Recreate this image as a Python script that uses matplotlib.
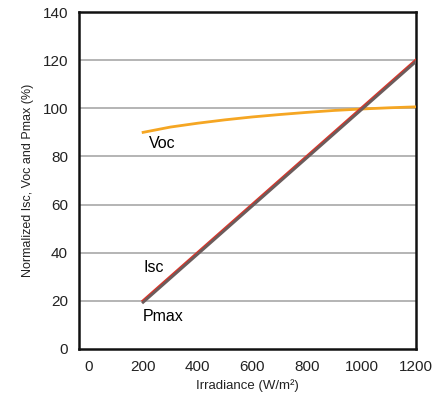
import matplotlib
matplotlib.use("Agg")
import matplotlib.pyplot as plt

plt.rcParams["font.family"] = ["Liberation Sans", "DejaVu Sans"]

# Data
irradiance = [200, 300, 400, 500, 600, 700, 800, 900, 1000, 1100, 1200]
voc = [90, 92.2, 93.8, 95.2, 96.4, 97.4, 98.3, 99.1, 99.7, 100.2, 100.6]
isc_x = [200, 1200]
isc = [20, 120]
pmax_x = [200, 1200]
pmax = [19.4, 119.4]

x_ticks = [0, 200, 400, 600, 800, 1000, 1200]
y_ticks = [0, 20, 40, 60, 80, 100, 120, 140]

fig = plt.figure(figsize=(4.47, 3.94), dpi=100)
ax = fig.add_axes([79 / 447, 1 - 349 / 394, (416 - 79) / 447, (349 - 12) / 394])

for y in y_ticks[1:-1]:
    ax.axhline(y, color="#a8a8a8", linewidth=1.2, zorder=1)

ax.plot(irradiance, voc, color="#f5a623", linewidth=2, zorder=3)
ax.plot(isc_x, isc, color="#d9362b", linewidth=2.2, zorder=3)
ax.plot(pmax_x, pmax, color="#6b5c5c", linewidth=2, zorder=4)

ax.text(222, 85.5, "Voc", fontsize=11.5, ha="left", va="center")
ax.text(200, 34, "Isc", fontsize=11.5, ha="left", va="center")
ax.text(200, 13.5, "Pmax", fontsize=11.5, ha="left", va="center")

ax.set_xlim(-35, 1200)
ax.set_ylim(0, 140)
ax.set_xticks(x_ticks)
ax.set_yticks(y_ticks)
ax.tick_params(length=0, labelsize=11, pad=8, labelcolor="#222222")
for s in ax.spines.values():
    s.set_color("#111111")
    s.set_linewidth(1.8)

ax.set_xlabel("Irradiance (W/m²)", fontsize=9.5, labelpad=4, color="#222222")
ax.set_ylabel("Normalized Isc, Voc and Pmax (%)", fontsize=9, labelpad=6, color="#222222")

plt.savefig("out.png", dpi=100)
